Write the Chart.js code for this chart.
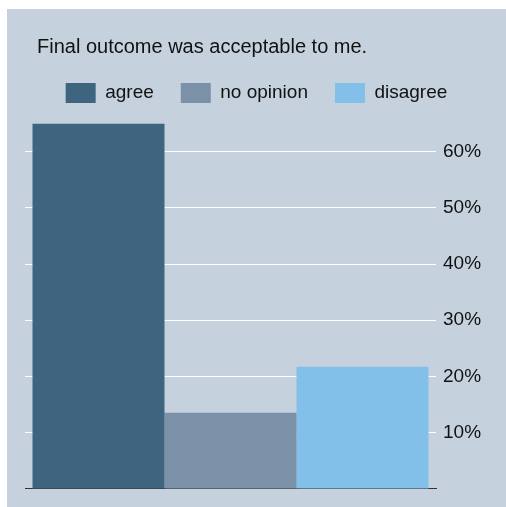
<!DOCTYPE html>
<html lang="en">

<head>
  <meta charset="utf-8" />
  <title>Final outcome</title>
  <script src="https://cdn.jsdelivr.net/npm/chart.js@4.4.0/dist/chart.umd.min.js"></script>
  <style>
    body { margin: 0; background: #fff; }
    #chart { display: block; margin: 9px 0 0 7px; background: #c5d2de; }
  </style>
</head>

<body>
  <canvas id="chart" width="499" height="498"></canvas>
  <script>
    // data (percent)
    const answers = ['agree', 'no opinion', 'disagree'];
    const shares = [65, 13.5, 21.7];
    const colours = ['#3e6480', '#7b91a8', '#82bfe9'];
    const yTicks = [10, 20, 30, 40, 50, 60];

    const font = { family: '"Liberation Sans", Arial, sans-serif', size: 19 };

    // the title sits a bit further right than the plot area
    const titleShift = {
      id: 'titleShift',
      afterLayout(chart) {
        chart.titleBlock.left += 12;
        chart.titleBlock.right += 12;
      }
    };

    const datasets = answers.map((name, i) => ({
      label: name,
      data: [shares[i]],
      backgroundColor: colours[i],
      borderWidth: 0,
      clip: false
    }));

    new Chart(document.getElementById('chart'), {
      type: 'bar',
      data: { labels: [''], datasets: datasets },
      options: {
        responsive: false,
        animation: false,
        devicePixelRatio: 1,
        events: [],
        categoryPercentage: 396 / 411,
        barPercentage: 1,
        layout: { padding: { left: 18, right: 18, top: 0, bottom: 10 } },
        plugins: {
          tooltip: { enabled: false },
          title: {
            display: true,
            text: 'Final outcome was acceptable to me.',
            align: 'start',
            color: '#111',
            font: { family: font.family, size: 20, weight: 'normal', lineHeight: 1 },
            padding: { top: 28, bottom: -1 }
          },
          legend: {
            labels: {
              color: '#111',
              font: font,
              boxWidth: 30,
              boxHeight: 20,
              padding: 27
            }
          }
        },
        scales: {
          x: {
            ticks: { display: false },
            grid: { display: false },
            border: { display: true, color: '#333', width: 1 }
          },
          y: {
            position: 'right',
            min: 0,
            max: 66.9,
            afterBuildTicks: (scale) => {
              scale.ticks = yTicks.map(v => ({ value: v }));
            },
            afterFit: (scale) => { scale.width = 52; },
            ticks: {
              color: '#111',
              font: font,
              padding: 7,
              callback: (v) => v + '%'
            },
            grid: { color: '#ffffff', lineWidth: 1, drawTicks: false },
            border: { display: false }
          }
        }
      },
      plugins: [titleShift]
    });
  </script>
</body>

</html>
